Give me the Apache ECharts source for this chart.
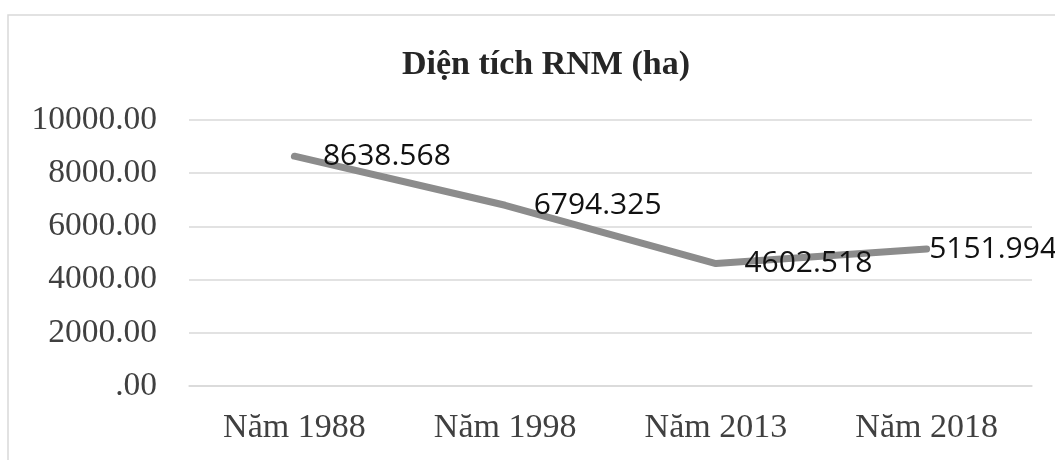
<!DOCTYPE html>
<html>
<head>
<meta charset="utf-8">
<script src="https://cdn.jsdelivr.net/npm/echarts@6/dist/echarts.min.js"></script>
<style>
html,body{margin:0;padding:0;background:#fff;}
#main{width:1055px;height:460px;}
</style>
</head>
<body>
<div id="main"></div>
<script>
const titleText = 'Diện tích RNM (ha)';
const categories = ['Năm 1988', 'Năm 1998', 'Năm 2013', 'Năm 2018'];
const areaValues = [8638.568, 6794.325, 4602.518, 5151.994];
const labelDistances = [28, 28, 28, 2];

const chart = echarts.init(document.getElementById('main'), null, {renderer: 'canvas'});
const serif = '"Liberation Serif", "Times New Roman", serif';

chart.setOption({
  animation: false,
  backgroundColor: '#fff',
  title: {
    text: titleText,
    left: 541,
    textAlign: 'center',
    top: 43,
    textStyle: {fontFamily: serif, fontWeight: 'bold', fontSize: 34, color: '#262626'}
  },
  graphic: [{
    type: 'rect',
    shape: {x: 8, y: 15, width: 1100, height: 500},
    style: {fill: 'none', stroke: '#d9d9d9', lineWidth: 1.5},
    silent: true
  }],
  grid: {left: 189, right: 23, top: 120, bottom: 74},
  xAxis: {
    type: 'category',
    data: categories,
    boundaryGap: true,
    axisLine: {show: true, lineStyle: {color: '#d9d9d9', width: 1.5}},
    axisTick: {show: false},
    axisLabel: {fontFamily: serif, fontSize: 34, color: '#404040', margin: 25}
  },
  yAxis: {
    type: 'value',
    min: 0,
    max: 10000,
    interval: 2000,
    axisLine: {show: false},
    axisTick: {show: false},
    splitLine: {lineStyle: {color: '#d9d9d9', width: 1.5}},
    axisLabel: {
      fontFamily: serif, fontSize: 33.5, color: '#404040', margin: 32,
      formatter: function (v) { return v === 0 ? '.00' : v.toFixed(2); }
    }
  },
  series: [{
    type: 'line',
    data: areaValues.map(function (v, i) {
      return {value: v, label: {distance: labelDistances[i]}};
    }),
    showSymbol: true,
    symbol: 'circle',
    symbolSize: 1,
    itemStyle: {color: 'rgba(0,0,0,0)'},
    lineStyle: {color: '#8c8c8c', width: 7, cap: 'round', join: 'round'},
    label: {
      show: true,
      position: 'right',
      fontFamily: '"Open Sans", sans-serif',
      fontSize: 30,
      color: '#111',
      formatter: function (p) { return p.value.toFixed(3); }
    }
  }]
});
</script>
</body>
</html>
